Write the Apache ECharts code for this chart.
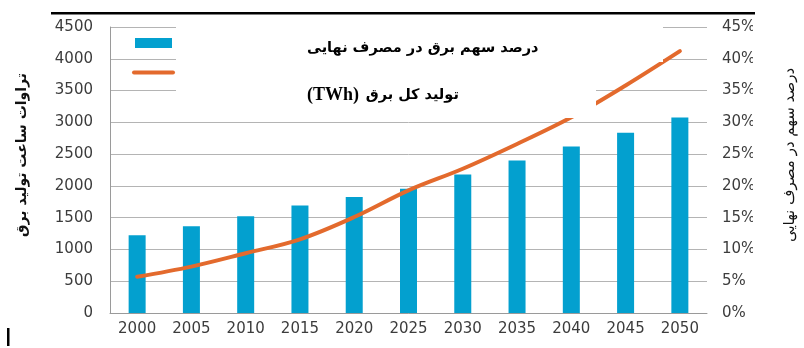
<!DOCTYPE html>
<html>
<head>
<meta charset="utf-8">
<script src="https://cdn.jsdelivr.net/npm/echarts@6/dist/echarts.min.js"></script>
<style>
  html, body { margin: 0; padding: 0; background: #fff; }
  #chart { width: 804px; height: 348px; }
</style>
</head>
<body>
<div id="chart"></div>
<script>
// Years on the horizontal axis
const years = ['2000', '2005', '2010', '2015', '2020', '2025', '2030', '2035', '2040', '2045', '2050'];
// Total electricity generation (TWh)
const generation = [1223, 1364, 1521, 1693, 1824, 1955, 2179, 2399, 2618, 2838, 3078];
// Share of electricity in final consumption (%)
const electricityShare = [5.7, 7.3, 9.4, 11.6, 15.1, 19.3, 22.7, 26.6, 30.8, 35.8, 41.2];

const leftAxisTitle = 'تراوات ساعت تولید برق';
const rightAxisTitle = 'درصد سهم در مصرف نهایی';
const shareLabel = 'درصد سهم برق در مصرف نهایی';
const generationUnit = '(TWh)';
const generationLabel = 'تولید کل برق';

const BAR_COLOR = '#03a0cf';
const LINE_COLOR = '#e36a2d';
const GRID_COLOR = '#b4b4b4';
const LABEL_COLOR = '#3c3c3c';
const TICK_FONT = 'DejaVu Sans';

const chart = echarts.init(document.getElementById('chart'), null, { renderer: 'canvas' });

chart.setOption({
  animation: false,
  backgroundColor: '#fff',
  grid: { left: 110, right: 97, top: 27, bottom: 35, containLabel: false },
  xAxis: {
    type: 'category',
    data: years,
    boundaryGap: true,
    axisTick: { show: false },
    axisLine: { lineStyle: { color: '#9a9a9a', width: 1 } },
    axisLabel: { color: LABEL_COLOR, fontFamily: TICK_FONT, fontSize: 15, margin: 9 }
  },
  yAxis: [
    {
      type: 'value',
      min: 0, max: 4500, interval: 500,
      axisLine: { show: true, lineStyle: { color: '#9a9a9a', width: 1 } },
      axisTick: { show: false },
      splitLine: { show: true, lineStyle: { color: GRID_COLOR, width: 1 } },
      axisLabel: { color: LABEL_COLOR, fontFamily: TICK_FONT, fontSize: 15, margin: 17, formatter: v => String(v) }
    },
    {
      type: 'value',
      position: 'right',
      min: 0, max: 45, interval: 5,
      axisLine: { show: false },
      axisTick: { show: false },
      splitLine: { show: false },
      axisLabel: { color: LABEL_COLOR, fontFamily: TICK_FONT, fontSize: 15, margin: 15, formatter: '{value}%' }
    }
  ],
  series: [
    {
      name: 'generation',
      type: 'bar',
      data: generation,
      barWidth: 17,
      itemStyle: { color: BAR_COLOR },
      yAxisIndex: 0
    },
    {
      name: 'share',
      type: 'line',
      data: electricityShare,
      yAxisIndex: 1,
      smooth: 0.35,
      symbol: 'none',
      lineStyle: { color: LINE_COLOR, width: 4, cap: 'round' }
    }
  ],
  graphic: [
    // white panel holding the series descriptions
    { type: 'rect', z: 100, shape: { x: 176, y: 18, width: 487, height: 44 }, style: { fill: '#fff' } },
    { type: 'rect', z: 100, shape: { x: 176, y: 61, width: 420, height: 57 }, style: { fill: '#fff' } },
    // legend keys
    { type: 'rect', z: 101, shape: { x: 135, y: 38, width: 37, height: 10 }, style: { fill: BAR_COLOR } },
    { type: 'line', z: 101, shape: { x1: 134, y1: 72.5, x2: 173, y2: 72.5 }, style: { stroke: LINE_COLOR, lineWidth: 4, lineCap: 'round' } },
    // series descriptions
    { type: 'text', z: 102, x: 307, y: 48, style: { text: shareLabel, fill: '#000', font: 'bold 14.5px "DejaVu Sans"', textAlign: 'left', textVerticalAlign: 'middle' } },
    {
      type: 'text', z: 102, x: 307, y: 95,
      style: {
        text: '{u|' + generationUnit + '}  {t|' + generationLabel + '}',
        textAlign: 'left', textVerticalAlign: 'middle',
        rich: {
          u: { fill: '#000', fontFamily: 'Liberation Serif', fontWeight: 'bold', fontSize: 18 },
          t: { fill: '#000', fontFamily: 'DejaVu Sans', fontWeight: 'bold', fontSize: 14.5 }
        }
      }
    },
    // axis titles
    { type: 'text', z: 102, x: 22, y: 155, rotation: Math.PI / 2, style: { text: leftAxisTitle, fill: '#111', font: 'bold 14px "DejaVu Sans"', textAlign: 'center', textVerticalAlign: 'middle' } },
    { type: 'text', z: 102, x: 790, y: 155, rotation: Math.PI / 2, style: { text: rightAxisTitle, fill: '#111', font: '15px "DejaVu Sans"', textAlign: 'center', textVerticalAlign: 'middle' } },
    // right margin strip trimming the percent labels
    { type: 'rect', z: 101, shape: { x: 753, y: 16, width: 24, height: 284 }, style: { fill: '#fff' } },
    // top rule
    { type: 'rect', z: 102, shape: { x: 51, y: 12, width: 704, height: 2.5 }, style: { fill: '#000' } },
    // caret mark at bottom left
    { type: 'rect', z: 102, shape: { x: 7, y: 328, width: 2.5, height: 18 }, style: { fill: '#000' } }
  ]
});
</script>
</body>
</html>
